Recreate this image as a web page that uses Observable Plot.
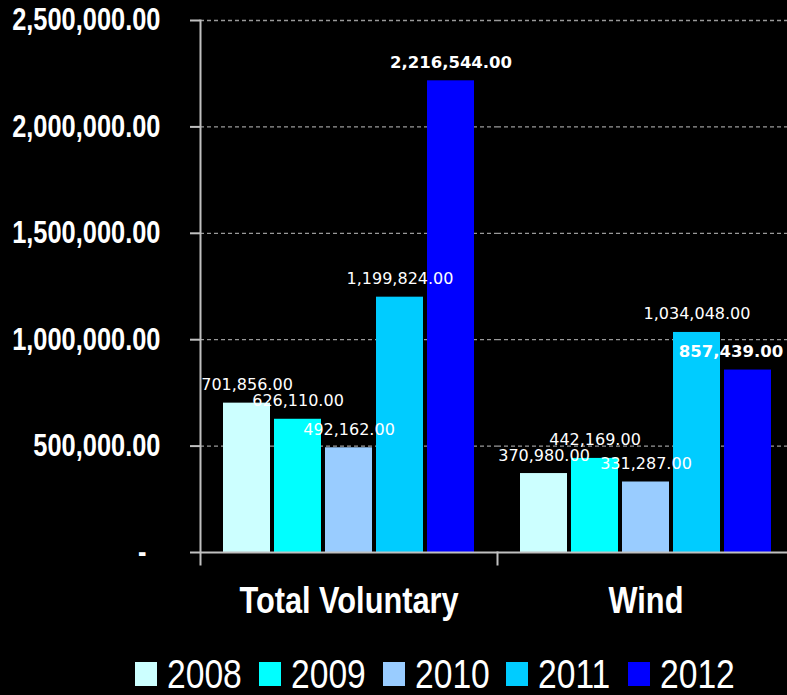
<!DOCTYPE html>
<html><head><meta charset="utf-8">
<script src="https://cdn.jsdelivr.net/npm/d3@7"></script>
<script src="https://cdn.jsdelivr.net/npm/@observablehq/plot@0.6"></script>
<style>
html,body{margin:0;padding:0;background:#000;overflow:hidden;width:787px;height:695px}
#chart svg{display:block}
#legend{display:flex;align-items:center;height:24px;margin-top:22px;padding-left:135px;font-family:"Liberation Sans",Arial,sans-serif;color:#fff;font-size:41px;white-space:nowrap}
.sw{width:22px;height:24px;margin-right:10px;flex:none}
.lb{display:inline-block;line-height:1;transform:scaleX(0.82);transform-origin:left center;flex:none}
</style></head><body><div id="chart"></div><div id="legend"></div>
<script>
const categories = ["Total Voluntary", "Wind"];
const years = ["2008", "2009", "2010", "2011", "2012"];
const totalVoluntary = [701856, 626110, 492162, 1199824, 2216544];
const wind = [370980, 442169, 331287, 1034048, 857439];
const colors = ["#ccffff", "#00ffff", "#99ccff", "#00ccff", "#0000ff"];
const yTicks = [0, 500000, 1000000, 1500000, 2000000, 2500000];
const yTickLabels = ["-\u00a0\u00a0", "500,000.00", "1,000,000.00", "1,500,000.00", "2,000,000.00", "2,500,000.00"];

const rows = [];
[totalVoluntary, wind].forEach((vals, ci) => vals.forEach((v, yi) => rows.push({category: categories[ci], year: years[yi], value: v})));
const fmt = d3.format(",.2f");
const sansFont = '"Liberation Sans",Arial,sans-serif';
const labelFont = '"DejaVu Sans","Verdana",sans-serif';
const NARROW = 0.82;
const H = 640, MT = 20, MB = 88, PH = H - MT - MB;
const axisGray = "#c0c0c0";

const chart = Plot.plot({
  width: 787, height: H, marginTop: MT, marginBottom: MB, marginLeft: 200, marginRight: 0,
  style: {background: "black", color: "white"},
  fx: {domain: categories, range: [200, 794], padding: 0, axis: null},
  x: {domain: years, paddingInner: 4 / 52, paddingOuter: 21 / 52, axis: null},
  y: {domain: [0, 2500000], axis: null},
  color: {domain: years, range: colors},
  marks: [
    Plot.gridY(yTicks.slice(1), {stroke: "#999", strokeOpacity: 1, strokeDasharray: "4,3", strokeWidth: 1.3}),
    Plot.barY(rows, {fx: "category", x: "year", y: "value", fill: "year"}),
    Plot.ruleY([0], {stroke: axisGray, strokeWidth: 2}),
    Plot.frame({anchor: "left", facetAnchor: "left", stroke: axisGray, strokeWidth: 2, insetBottom: -12}),
    Plot.frame({anchor: "left", facetAnchor: "right", stroke: axisGray, strokeWidth: 2, insetTop: PH, insetBottom: -12}),
    Plot.axisY(yTicks, {
      label: null,
      tickFormat: d => yTickLabels[yTicks.indexOf(d)],
      tickSize: 10, tickPadding: 30, stroke: axisGray, strokeWidth: 2, fill: "white",
      fontSize: 31, fontWeight: "bold", fontFamily: sansFont
    }),
    Plot.text(rows.filter(d => d.year !== "2012"), {
      fx: "category", x: "year", y: "value", text: d => fmt(d.value),
      fill: "white", fontSize: 16, fontFamily: labelFont, lineAnchor: "bottom", dy: -13
    }),
    Plot.text(rows.filter(d => d.year === "2012" && d.category === "Total Voluntary"), {
      fx: "category", x: "year", y: "value", text: d => fmt(d.value),
      fill: "white", fontSize: 16.5, fontWeight: "bold", fontFamily: labelFont, lineAnchor: "bottom", dy: -13
    }),
    Plot.text(rows.filter(d => d.year === "2012" && d.category === "Wind"), {
      fx: "category", x: "year", y: "value", text: d => fmt(d.value),
      fill: "white", fontSize: 16.5, fontWeight: "bold", fontFamily: labelFont, lineAnchor: "bottom", dy: -13, dx: -17
    }),
    Plot.text(categories, {
      fx: d => d, text: d => d, frameAnchor: "bottom", lineAnchor: "bottom", dy: 60,
      fontSize: 37.5, fontWeight: "bold", fontFamily: sansFont, fill: "white"
    })
  ]
});
document.getElementById("chart").appendChild(chart);

// condense the Arial-Narrow-style texts (y tick labels, category labels) horizontally around their anchor
const narrowTexts = new Set([...yTickLabels, ...categories]);
d3.select(chart).selectAll("text").filter(function () { return narrowTexts.has(this.textContent); }).each(function () {
  let t = this.getAttribute("transform") || "";
  const xa = this.getAttribute("x");
  if (xa != null && isFinite(+xa)) {
    this.removeAttribute("x");
    t = `${t} translate(${+xa},0)`;
  }
  this.setAttribute("transform", `${t} scale(${NARROW},1)`);
});

const legend = document.getElementById("legend");
years.forEach((y, i) => {
  const sw = document.createElement("div");
  sw.className = "sw"; sw.style.background = colors[i];
  const lb = document.createElement("div");
  lb.className = "lb"; lb.textContent = y;
  legend.appendChild(sw); legend.appendChild(lb);
  lb.style.marginRight = (17 - lb.offsetWidth * (1 - NARROW)) + "px";
});
</script></body></html>
